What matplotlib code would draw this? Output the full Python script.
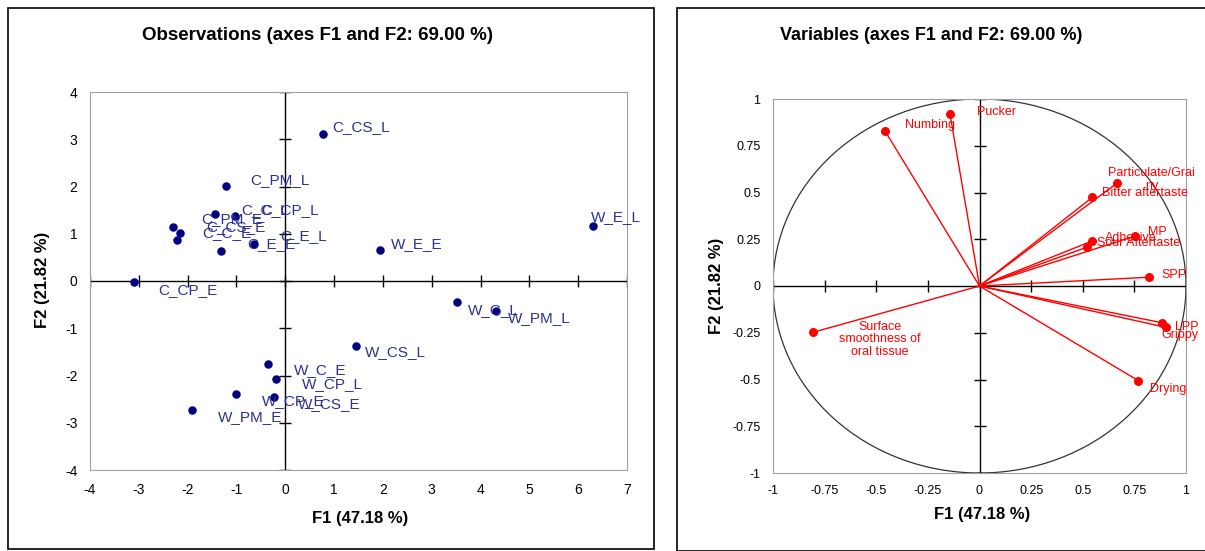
import numpy as np
import matplotlib.pyplot as plt
from matplotlib.patches import Circle, Rectangle

plt.rcParams['font.family'] = ['Liberation Sans', 'DejaVu Sans']
plt.rcParams['axes.unicode_minus'] = False

# observations (F1, F2)
obs_names = ['C_CS_L', 'C_PM_L', 'C_CP_L', 'C_C_L', 'C_PM_E', 'C_CS_E', 'C_C_E',
             'C_E_E', 'C_E_L', 'C_CP_E', 'W_E_L', 'W_E_E', 'W_C_L', 'W_PM_L',
             'W_CS_L', 'W_C_E', 'W_CP_L', 'W_CP_E', 'W_CS_E', 'W_PM_E']
obs_f1 = [0.78, -1.22, -1.03, -1.44, -2.29, -2.15, -2.21, -1.32, -0.64, -3.09,
          6.31, 1.94, 3.52, 4.32, 1.45, -0.35, -0.18, -1.00, -0.23, -1.92]
obs_f2 = [3.11, 2.01, 1.38, 1.42, 1.14, 1.01, 0.87, 0.63, 0.78, -0.02,
          1.16, 0.65, -0.44, -0.63, -1.38, -1.76, -2.07, -2.39, -2.45, -2.72]

# variables (correlations with F1, F2)
var_names = ['Pucker', 'Numbing', 'Particulate/Grai\nny', 'Bitter aftertaste', 'MP',
             'Adhesive', 'Sour Aftertaste', 'SPP', 'LPP', 'Grippy', 'Drying',
             'Surface\nsmoothness of\noral tissue']
var_f1 = [-0.143, -0.458, 0.664, 0.546, 0.753, 0.546, 0.519, 0.821, 0.882, 0.902, 0.769, -0.808]
var_f2 = [0.92, 0.83, 0.549, 0.474, 0.267, 0.241, 0.207, 0.047, -0.196, -0.221, -0.506, -0.248]

obs_xticks = np.arange(-4, 8)
obs_yticks = np.arange(-4, 5)
var_ticks = [-1, -0.75, -0.5, -0.25, 0, 0.25, 0.5, 0.75, 1]
var_ticklabels = ['-1', '-0.75', '-0.5', '-0.25', '0', '0.25', '0.5', '0.75', '1']

# label offsets in pixels (dx, dy), layout only
obs_off = [(9, 7), (25, 6), (26, 6), (26, 4), (28, 8), (26, 6), (25, 7), (26, 7), (26, 8),
           (24, -8), (-2, 9), (11, 6), (11, -8), (12, -7), (9, -6), (26, -6), (25, -5),
           (25, -7), (24, -7), (26, -7)]
var_off = [(27, 2), (20, 6), (35, 4), (10, 4), (13, 4), (13, 3), (10, 4), (12, 2),
           (13, -4), (-4, -8), (12, -8), (67, -7)]

W, H = 1205, 551
fig = plt.figure(figsize=(W / 100, H / 100), dpi=100)

# panel frames
fig.patches.append(Rectangle((8 / W, 1 - 549 / H), 646 / W, 541 / H, transform=fig.transFigure,
                             fill=False, ec='black', lw=1.2))
fig.patches.append(Rectangle((677 / W, 1 - 551 / H), 530 / W, 543 / H, transform=fig.transFigure,
                             fill=False, ec='black', lw=1.2))

blue_pt = '#00007f'
blue_txt = '#2e3192'
red = '#ff0000'
gray = '#a0a0a0'

# ---- Observations ----
ax1 = fig.add_axes([90 / W, 1 - 470 / H, 537 / W, 378 / H])
ax1.set_xlim(-4, 7)
ax1.set_ylim(-4, 4)
ax1.set_xticks(obs_xticks)
ax1.set_yticks(obs_yticks)
ax1.tick_params(length=0, pad=9, labelsize=10)
for s in ax1.spines.values():
    s.set_color(gray)
ax1.axhline(0, color='black', lw=1)
ax1.axvline(0, color='black', lw=1)
ax1.plot(obs_xticks, np.zeros(len(obs_xticks)), ls='none', marker='|', ms=8, mew=1, color='black')
ax1.plot(np.zeros(len(obs_yticks)), obs_yticks, ls='none', marker='_', ms=8, mew=1, color='black')
ax1.scatter(obs_f1, obs_f2, s=26, color=blue_pt, zorder=3)
for n, x, y, o in zip(obs_names, obs_f1, obs_f2, obs_off):
    ax1.annotate(n, (x, y), xytext=o, textcoords='offset pixels', ha='left', va='center',
                 fontsize=11, color=blue_txt)

fig.text(317 / W, 1 - 35 / H, 'Observations (axes F1 and F2: 69.00 %)', ha='center', va='center',
         fontsize=13.5, fontweight='bold')
fig.text(360 / W, 1 - 518 / H, 'F1 (47.18 %)', ha='center', va='center', fontsize=12, fontweight='bold')
fig.text(42 / W, 1 - 280 / H, 'F2 (21.82 %)', ha='center', va='center', rotation=90,
         fontsize=12, fontweight='bold')

# ---- Variables ----
ax2 = fig.add_axes([773 / W, 1 - 473 / H, 413 / W, 374 / H])
ax2.set_xlim(-1, 1)
ax2.set_ylim(-1, 1)
ax2.set_xticks(var_ticks)
ax2.set_xticklabels(var_ticklabels)
ax2.set_yticks(var_ticks)
ax2.set_yticklabels(var_ticklabels)
ax2.tick_params(length=0, pad=9, labelsize=9)
for s in ax2.spines.values():
    s.set_color(gray)
ax2.axhline(0, color='black', lw=1)
ax2.axvline(0, color='black', lw=1)
ax2.plot(var_ticks, np.zeros(len(var_ticks)), ls='none', marker='|', ms=8, mew=1, color='black')
ax2.plot(np.zeros(len(var_ticks)), var_ticks, ls='none', marker='_', ms=8, mew=1, color='black')
ax2.add_patch(Circle((0, 0), 1, fill=False, ec='#333333', lw=0.9))
for x, y in zip(var_f1, var_f2):
    ax2.plot([0, x], [0, y], color=red, lw=1)
ax2.scatter(var_f1, var_f2, s=30, color=red, zorder=3)
for n, x, y, o in zip(var_names, var_f1, var_f2, var_off):
    centered = '\n' in n
    ax2.annotate(n, (x, y), xytext=o, textcoords='offset pixels',
                 ha='center' if centered else 'left', va='center', multialignment='center',
                 fontsize=9, color=red, annotation_clip=False, linespacing=1.05)

fig.text(931 / W, 1 - 35 / H, 'Variables (axes F1 and F2: 69.00 %)', ha='center', va='center',
         fontsize=13, fontweight='bold')
fig.text(982 / W, 1 - 515 / H, 'F1 (47.18 %)', ha='center', va='center', fontsize=12, fontweight='bold')
fig.text(716 / W, 1 - 286 / H, 'F2 (21.82 %)', ha='center', va='center', rotation=90,
         fontsize=12, fontweight='bold')

fig.savefig('out.png', dpi=100)
